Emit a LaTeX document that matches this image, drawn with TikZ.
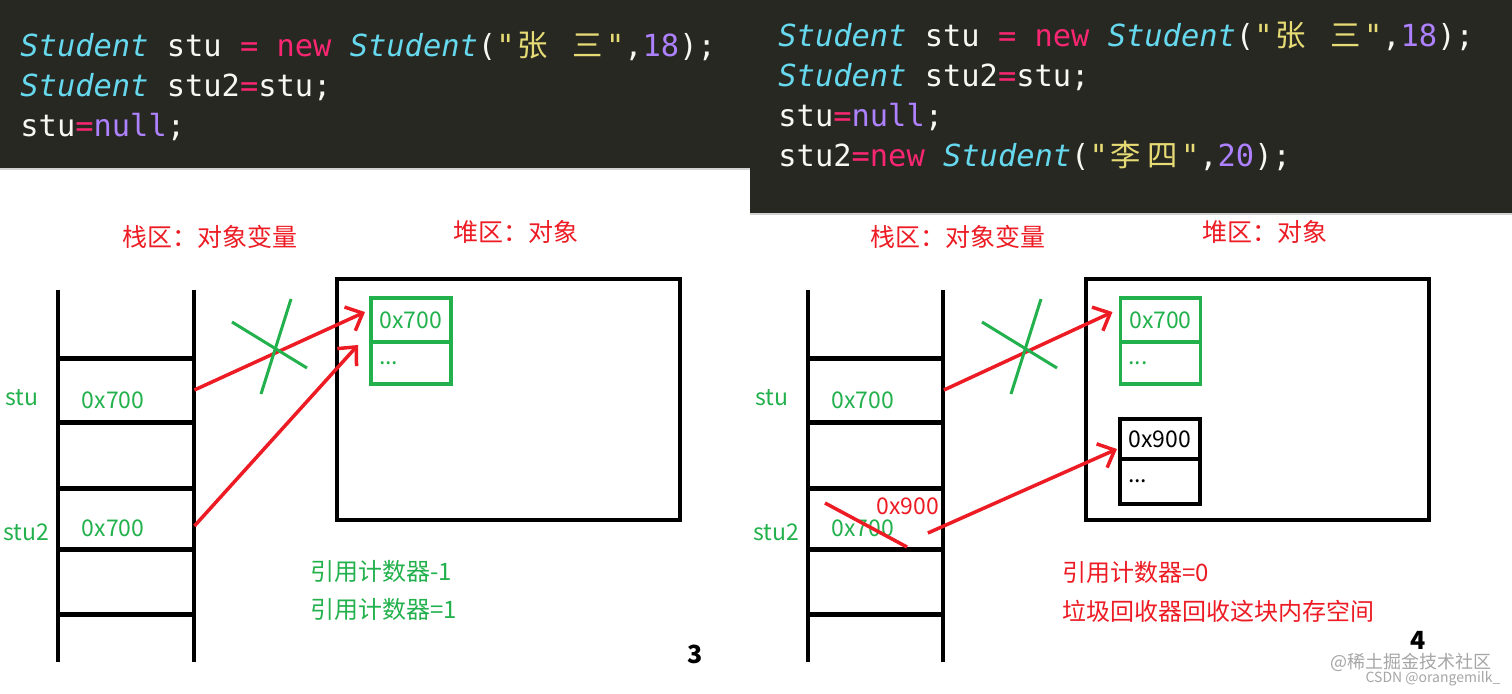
\documentclass[tikz,border=0pt]{standalone}
\usepackage{fontspec}
\setmainfont{Noto Sans CJK SC}
\setmonofont{DejaVu Sans Mono}
\newfontfamily\cjk{Noto Sans CJK SC}
\usetikzlibrary{arrows.meta,positioning}

\definecolor{codebg}{HTML}{272822}
\definecolor{cwhite}{HTML}{F8F8F2}
\definecolor{ctype}{HTML}{66D9EF}
\definecolor{cpink}{HTML}{F92672}
\definecolor{cstring}{HTML}{E6DB74}
\definecolor{cnumber}{HTML}{AE81FF}
\definecolor{paintred}{HTML}{ED1C24}
\definecolor{paintgreen}{HTML}{22B14C}

\newcommand\ctype[1]{\textcolor{ctype}{\itshape #1}}
\newcommand\cpink[1]{\textcolor{cpink}{#1}}
\newcommand\cstring[1]{\textcolor{cstring}{#1}}
\newcommand\cnumber[1]{\textcolor{cnumber}{#1}}
\newcommand\cj[1]{\makebox[18.3pt]{\cjk #1}}

\begin{document}
\begin{tikzpicture}[x=0.5pt, y=-0.5pt,
  code/.style={anchor=base west, inner sep=0pt, text=cwhite, font=\ttfamily\fontsize{15.2}{20}\selectfont},
  title/.style={text=paintred, inner sep=0pt, font=\fontsize{12.5}{15}\selectfont},
  rail/.style={line width=2pt},
  rung/.style={line width=2.5pt},
  cell/.style={minimum width=68pt, text width=44pt, align=left, inner xsep=12pt, inner ysep=0pt, text height=25pt, text depth=7pt, text=paintgreen, font=\fontsize{11.5}{14}\selectfont},
  var/.style={text=paintgreen, inner sep=0pt, font=\fontsize{11.5}{14}\selectfont},
  heap/.style={draw, line width=2pt, minimum width=171.5pt, minimum height=120.5pt},
  field/.style={draw=#1, text=#1, line width=1.75pt, outer sep=0pt, inner sep=0pt, minimum width=40pt, minimum height=22pt, font=\fontsize{11.5}{14}\selectfont},
  dots/.style={field=#1, minimum height=21pt, text width=32pt, align=left},
  ref/.style={draw=paintred, line width=1.75pt, -{Straight Barb[length=7pt,width=13pt]}},
  cross/.style={draw=paintgreen, line width=1.5pt},
  note/.style={anchor=west, inner sep=0pt, font=\fontsize{12}{15}\selectfont},
  pageno/.style={inner sep=0pt, font=\bfseries\fontsize{12.5}{15}\selectfont},
  wmark/.style={text=gray!70, inner sep=0pt}]
\useasboundingbox (0,0) rectangle (1512,693);
\fill[white] (0,0) rectangle (1512,693);

% code panels
\fill[codebg] (0,0) rectangle (752,168);
\draw[gray!35, line width=1pt] (0,169) -- (750,169);
\fill[codebg] (750,0) rectangle (1512,213);
\draw[gray!35, line width=1pt] (750,214) -- (1512,214);
\node[code] (codeA1) at (20,56) {\ctype{Student} stu \cpink{=} \cpink{new} \ctype{Student}(\cstring{"\cj{张} \cj{三}"},\cnumber{18});};
\node[code] (codeA2) at (20,96) {\ctype{Student} stu2\cpink{=}stu;};
\node[code] (codeA3) at (20,136) {stu\cpink{=}\cnumber{null};};
\node[code] (codeB1) at (778,46) {\ctype{Student} stu \cpink{=} \cpink{new} \ctype{Student}(\cstring{"\cj{张} \cj{三}"},\cnumber{18});};
\node[code] (codeB2) at (778,86) {\ctype{Student} stu2\cpink{=}stu;};
\node[code] (codeB3) at (778,126) {stu\cpink{=}\cnumber{null};};
\node[code] (codeB4) at (778,166) {stu2\cpink{=new} \ctype{Student}(\cstring{"\cj{李}\cj{四}"},\cnumber{20});};

% left: step 3
\node[title] (stackA) at (210,237) {栈区：对象变量};
\node[title] (heapAtitle) at (516,232) {堆区：对象};
\foreach \x in {58,194} \draw[rail] (\x,290) -- (\x,662);
\foreach \y in {358,422,488,549,614} \draw[rung] (58,\y) -- (194,\y);
\node[cell] (stuA) at (126,390) {0x700};
\node[cell] (stu2A) at (126,518) {0x700};
\node[var] (stuAname) at (22,398) {stu};
\node[var] (stu2Aname) at (26,532) {stu2};
\node[heap] (heapA) at (508.5,399.5) {};
\node[field=paintgreen] (objA) at (411,320) {0x700};
\node[dots=paintgreen, below=0pt of objA] (objAdots) {...};
\draw[ref] (stuA.east) -- ([xshift=-3pt,yshift=4pt]objA.west);
\draw[ref] ([yshift=-4pt]stu2A.east) -- ([xshift=-6.5pt,yshift=-1.5pt]objA.south west);
\draw[cross] (232,322) -- (307,368);
\draw[cross] (291,299) -- (261,394);
\node[note, text=paintgreen] (countA1) at (310,571) {引用计数器-1};
\node[note, text=paintgreen] (countA2) at (310,609) {引用计数器=1};
\node[pageno] (pageA) at (695,654) {3};

% right: step 4
\node[title] (stackB) at (958,237) {栈区：对象变量};
\node[title] (heapBtitle) at (1265,232) {堆区：对象};
\foreach \x in {808,943} \draw[rail] (\x,290) -- (\x,662);
\foreach \y in {358,422,488,549,614} \draw[rung] (808,\y) -- (943,\y);
\node[cell] (stuB) at (875.5,390) {0x700};
\node[cell] (stu2B) at (875.5,518) {0x700};
\node[var] (stuBname) at (772,398) {stu};
\node[var] (stu2Bname) at (776,532) {stu2};
\node[var, text=paintred] (newref) at (908,506) {0x900};
\draw[draw=paintred, line width=1.75pt] (825,503) -- (907,547);
\node[heap] (heapB) at (1257.5,399.5) {};
\node[field=paintgreen] (objB) at (1160.5,320) {0x700};
\node[dots=paintgreen, below=0pt of objB] (objBdots) {...};
\node[field=black, minimum height=20pt] (objD) at (1160,439) {0x900};
\node[dots=black, minimum height=22.5pt, below=0pt of objD] (objDdots) {...};
\draw[ref] (stuB.east) -- ([xshift=-4pt,yshift=4pt]objB.west);
\draw[ref] ([xshift=-8pt,yshift=-7.5pt]stu2B.east) -- ([xshift=-1.5pt,yshift=-5pt]objD.west);
\draw[cross] (982,322) -- (1057,368);
\draw[cross] (1041,299) -- (1011,394);
\node[note, text=paintred] (countB1) at (1062,572) {引用计数器=0};
\node[note, text=paintred] (countB2) at (1062,611) {垃圾回收器回收这块内存空间};
\node[pageno] (pageB) at (1418,640) {4};
\node[wmark, font=\fontsize{9}{11}\selectfont] (markA) at (1411,662) {@稀土掘金技术社区};
\node[wmark, font=\fontsize{7}{9}\selectfont] (markB) at (1433,679) {CSDN @orangemilk\_};
\end{tikzpicture}
\end{document}
